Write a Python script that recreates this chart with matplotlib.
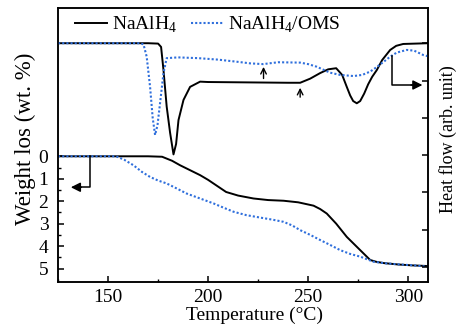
import matplotlib
matplotlib.use('Agg')
import matplotlib.pyplot as plt
from matplotlib.ticker import MultipleLocator

plt.rcParams['font.family'] = ['Liberation Serif', 'DejaVu Serif']
plt.rcParams['mathtext.fontset'] = 'custom'
plt.rcParams['mathtext.rm'] = 'Liberation Serif'

# DSC curves (heat flow, arbitrary units)
dsc_t_na = [125, 170, 175, 176.5, 177.7, 179.3, 181, 182.7, 184, 185.2, 187.7, 191,
            196, 200, 220, 240, 246, 251, 256, 260, 264, 267, 269.3, 271, 272.5,
            274.3, 276, 278, 280, 282, 284.3, 287, 291, 294, 297.5, 310]
dsc_na = [6.0, 6.0, 5.99, 5.9, 5.28, 4.3, 3.6, 3.02, 3.3, 3.94, 4.48, 4.83,
          4.97, 4.96, 4.95, 4.94, 4.94, 5.05, 5.2, 5.3, 5.33, 5.15, 4.83, 4.6, 4.45,
          4.39, 4.45, 4.65, 4.9, 5.1, 5.28, 5.55, 5.82, 5.93, 5.98, 6.0]

dsc_t_oms = [125, 166, 167.7, 169.3, 171, 172.3, 173.5, 174.7, 176, 177.7, 179.3, 185,
             195, 205, 215, 221, 227.5, 235, 246, 250, 254.3, 258, 261, 266, 272.7,
             277, 281, 284, 287.7, 291, 294.3, 299.3, 303, 307.7, 310]
dsc_oms = [6.0, 6.0, 5.97, 5.64, 4.83, 4.0, 3.54, 3.8, 4.4, 5.2, 5.6, 5.62,
           5.6, 5.56, 5.5, 5.46, 5.44, 5.49, 5.48, 5.44, 5.37, 5.28, 5.21, 5.15, 5.12,
           5.15, 5.24, 5.35, 5.5, 5.64, 5.75, 5.82, 5.8, 5.68, 5.65]

# TG curves (weight loss, wt. %)
tg_t_na = [125, 170, 177, 182, 186, 191, 196, 200, 205, 209, 215, 222.7, 230,
           237.7, 245, 252.7, 256, 259.3, 264, 269.3, 276, 281, 284, 288, 295, 302, 310]
tg_na = [0, 0, 0.02, 0.2, 0.4, 0.62, 0.84, 1.05, 1.35, 1.59, 1.75, 1.88, 1.95,
         1.98, 2.05, 2.2, 2.35, 2.55, 3.0, 3.59, 4.18, 4.62, 4.7, 4.76, 4.82, 4.86, 4.89]

tg_t_oms = [125, 154, 158, 162.7, 167, 171, 175, 179.3, 184, 189.3, 196, 202.7, 208,
            212.7, 219, 226, 232, 237.7, 242, 246, 251, 256, 261, 266, 271, 276,
            282.7, 289, 296, 303, 310]
tg_oms = [0, 0, 0.15, 0.4, 0.7, 0.92, 1.08, 1.21, 1.42, 1.66, 1.88, 2.1, 2.3,
          2.47, 2.62, 2.73, 2.82, 2.92, 3.08, 3.29, 3.5, 3.73, 3.95, 4.18, 4.35, 4.47,
          4.7, 4.77, 4.82, 4.86, 4.92]

blue = '#2f6fdc'
fs = 14

fig = plt.figure(figsize=(4.57, 3.26), dpi=100)
ax = fig.add_axes([0.127, 0.135, 0.81, 0.84])
ax2 = ax.twinx()

ax.plot(tg_t_na, tg_na, color='black', lw=1.4)
ax.plot(tg_t_oms, tg_oms, color=blue, lw=1.5, ls=(0, (1, 1)))
l1, = ax2.plot(dsc_t_na, dsc_na, color='black', lw=1.4, label='NaAlH$_4$')
l2, = ax2.plot(dsc_t_oms, dsc_oms, color=blue, lw=1.5, ls=(0, (1, 1)),
               label='NaAlH$_4$/OMS')

ax.set_xlim(125, 310)
ax.set_ylim(5.6, -6.6)
ax2.set_ylim(-0.4, 6.94)

ax.set_xticks([150, 200, 250, 300])
ax.xaxis.set_minor_locator(MultipleLocator(25))
ax.set_yticks([0, 1, 2, 3, 4, 5])
ax.set_yticks([0.5, 1.5, 2.5, 3.5, 4.5], minor=True)
ax2.set_yticks([0, 1, 2, 3, 4, 5, 6])
ax2.set_yticklabels([])

ax.tick_params(axis='both', which='major', direction='in', length=4, width=1.1,
               labelsize=fs)
ax.tick_params(axis='x', which='major', pad=5)
ax.tick_params(axis='y', which='major', pad=7)
ax.tick_params(axis='both', which='minor', direction='in', length=2.5, width=1.0)
ax2.tick_params(axis='y', direction='in', length=4, width=1.1)
for a in (ax, ax2):
    for s in a.spines.values():
        s.set_linewidth(1.1)

ax.set_xlabel('Temperature (°C)', fontsize=fs)
ax.xaxis.set_label_coords(0.532, -0.09)
ax.set_ylabel('Weight los (wt. %)', fontsize=16.5)
ax.yaxis.set_label_coords(-0.06, 0.522)
ax2.set_ylabel('Heat flow (arb. unit)', fontsize=13)
ax2.yaxis.set_label_coords(1.03, 0.522)

# marker arrows
ax2.annotate('', xy=(227.7, 5.44), xytext=(227.7, 4.98),
             arrowprops=dict(arrowstyle='->', color='black', lw=1.0))
ax2.annotate('', xy=(246, 4.88), xytext=(246, 4.48),
             arrowprops=dict(arrowstyle='->', color='black', lw=1.0))
ax2.plot([292, 292, 302], [5.66, 4.88, 4.88], color='black', lw=1.1)
ax2.annotate('', xy=(308.5, 4.88), xytext=(300, 4.88),
             arrowprops=dict(arrowstyle='-|>', color='black', lw=1.1,
                             mutation_scale=14))
ax.plot([141, 141, 136], [0, 1.38, 1.38], color='black', lw=1.1)
ax.annotate('', xy=(130, 1.38), xytext=(138, 1.38),
            arrowprops=dict(arrowstyle='-|>', color='black', lw=1.1,
                            mutation_scale=14))

ax2.legend(handles=[l1, l2], loc='upper left', ncol=2, frameon=False,
           fontsize=fs, handlelength=1.65, handletextpad=0.26, columnspacing=0.7,
           bbox_to_anchor=(0.025, 1.005), borderaxespad=0.0)

fig.savefig('out.png', dpi=100)
